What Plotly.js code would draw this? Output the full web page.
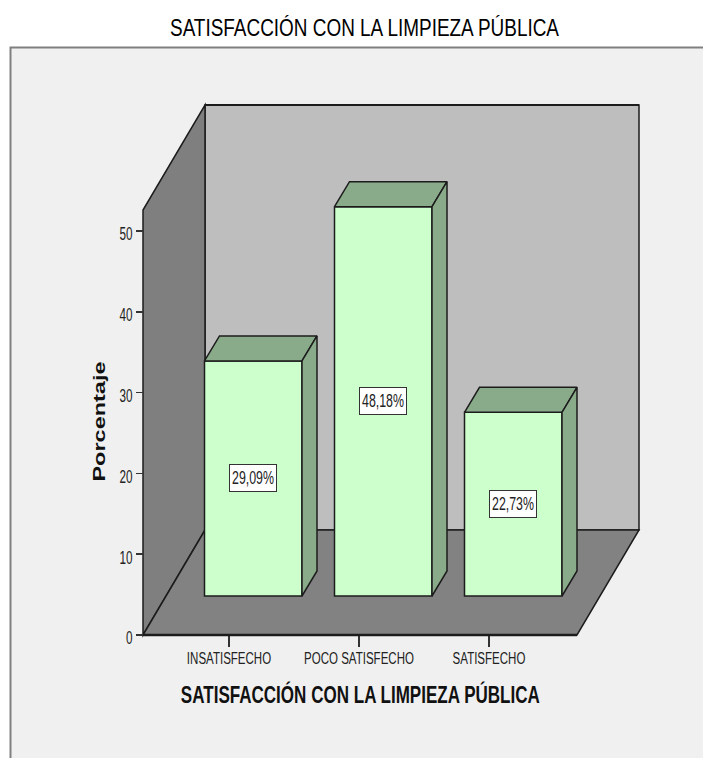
<!DOCTYPE html>
<html><head><meta charset="utf-8">
<script src="https://cdn.plot.ly/plotly-3.0.1.min.js"></script>
<style>html,body{margin:0;padding:0;background:#fff}</style></head>
<body><div id="c" style="width:703px;height:758px"></div>
<script>
const categories = ["INSATISFECHO", "POCO SATISFECHO", "SATISFECHO"];
const values = [29.09, 48.18, 22.73];
const valueLabels = ["29,09%", "48,18%", "22,73%"];
const yTicks = [0, 10, 20, 30, 40, 50];
const chartTitle = "SATISFACCIÓN CON LA LIMPIEZA PÚBLICA";
const xTitle = "SATISFACCIÓN CON LA LIMPIEZA PÚBLICA";
const yTitle = "Porcentaje";

// plot box in pixels and the scale of the axes
const box = {l:133, r:645, t:95, b:645}, W = 703, H = 758;
const pxX = 130, pxY = 8.08, x0px = 229, y0px = 635;
const px = p => (p - x0px) / pxX, py = p => (y0px - p) / pxY;
// 3-D construction, in axis units
const floorL = px(143), floorR = px(577), wallDX = 62/pxX, wallDY = 105/pxY, wallH = py(210);
const barBase = py(596), barW = 97.5/pxX, barOff = px(204.5), barDX = 15/pxX, barDY = 25/pxY;

const EDGE = "#1c1c1c", FRONT = "#ccffcc", SHADE = "#8aab8a";
const SANS = '"Liberation Sans",Arial,sans-serif';
const xs = categories.map((_, i) => i);

const poly = (pts, fill, lw) => ({type:"path", xref:"x", yref:"y", layer:"below",
  path: "M" + pts.map(p => p[0] + "," + p[1]).join("L") + "Z", fillcolor: fill, line:{color:EDGE, width:lw}});
const paperX = p => (p - box.l) / (box.r - box.l), paperY = p => (box.b - p) / (box.b - box.t);

const shapes = [
  {type:"rect", xref:"paper", yref:"paper", layer:"below", x0:paperX(10.5), x1:paperX(720), y0:paperY(47.5), y1:paperY(780),
   fillcolor:"#f0f0f0", line:{color:"#808080", width:2}},
  poly([[floorL+wallDX,wallDY],[floorL+wallDX,wallH+wallDY],[floorR+wallDX,wallH+wallDY],[floorR+wallDX,wallDY]],"#bebebe",1.5),
  poly([[floorL,0],[floorL,wallH],[floorL+wallDX,wallH+wallDY],[floorL+wallDX,wallDY]],"#7f7f7f",1.5),
  poly([[floorL,0],[floorR,0],[floorR+wallDX,wallDY],[floorL+wallDX,wallDY]],"#828282",1.5),
  {type:"line", xref:"x", yref:"y", x0:floorL, x1:floorR, y0:0, y1:0, line:{color:EDGE, width:2.5}},
  {type:"line", xref:"x", yref:"y", x0:floorL+wallDX, x1:floorR+wallDX, y0:wallH+wallDY, y1:wallH+wallDY, layer:"below", line:{color:EDGE, width:2}}
];

const topX=[], topY=[], sideX=[], sideY=[];
values.forEach((v,i) => {
  const a = i + barOff, b = a + barW, t = barBase + v;
  topX.push(a, b, b+barDX, a+barDX, a, null); topY.push(t, t, t+barDY, t+barDY, t, null);
  sideX.push(b, b+barDX, b+barDX, b, b, null); sideY.push(barBase, barBase+barDY, t+barDY, t, barBase, null);
});
const facet = (x,y) => ({type:"scatter", mode:"lines", x, y, fill:"toself", fillcolor:SHADE,
  line:{color:EDGE, width:1.5}, hoverinfo:"skip", showlegend:false});

const traces = [
  {type:"bar", x:xs, y:values, base:values.map(()=>barBase), width:barW, offset:barOff,
   marker:{color:FRONT, line:{color:EDGE, width:1.5}}, showlegend:false},
  facet(topX, topY), facet(sideX, sideY)
];

const annotations = values.map((v,i) => ({x:i+barOff+barW/2, y:barBase+v/2, xref:"x", yref:"y", text:valueLabels[i],
  showarrow:false, bgcolor:"#fff", bordercolor:"#333", borderwidth:1, width:46, height:26, borderpad:0,
  font:{family:SANS, size:18, color:"#222"}}));
annotations.push(
  {x:paperX(360), y:paperY(694), xref:"paper", yref:"paper", xanchor:"center", yanchor:"middle", text:xTitle, showarrow:false,
   font:{family:SANS, size:23, color:"#111", weight:"bold"}},
  {x:paperX(100), y:paperY(422), xref:"paper", yref:"paper", xanchor:"center", yanchor:"middle", text:yTitle, textangle:-90, showarrow:false,
   font:{family:SANS, size:17, color:"#111", weight:"bold"}}
);

const layout = {
  width:W, height:H, margin:{l:box.l, r:W-box.r, t:box.t, b:H-box.b},
  paper_bgcolor:"#fff", plot_bgcolor:"rgba(0,0,0,0)", showlegend:false, dragmode:false,
  title:{text:chartTitle, x:364.5/W, xanchor:"center", xref:"container", y:1-28/H, yanchor:"middle", yref:"container",
         font:{family:SANS, size:24, color:"#000"}},
  xaxis:{range:[px(box.l), px(box.r)], tickmode:"array", tickvals:xs, ticktext:categories,
         anchor:"free", position:paperY(y0px), ticks:"outside", ticklen:11, tickwidth:1.5, tickcolor:"#333",
         showgrid:false, zeroline:false, showline:false, tickangle:0, ticklabelstandoff:-2,
         tickfont:{family:SANS, size:16, color:"#222"}},
  yaxis:{range:[py(box.b), py(box.t)], tickmode:"array", tickvals:yTicks,
         anchor:"free", position:paperX(143), ticks:"outside", ticklen:7, tickwidth:1.5, tickcolor:"#333",
         showgrid:false, zeroline:false, showline:false, ticklabelshift:3,
         tickfont:{family:SANS, size:18, color:"#222"}},
  shapes, annotations
};

// The reference uses a condensed face: keep the text real and fit it to its measured width.
const textFits = [
  [".gtitle", () => 389],
  [".xtick text", el => el.getComputedTextLength() * 0.72],
  [".ytick text", el => el.getComputedTextLength() * 0.65],
  [".annotation-text", el => {
     const t = el.textContent;
     if (t === xTitle) return 359;
     if (t === yTitle) return 120;
     return 42;
  }]
];
Plotly.newPlot("c", traces, layout, {staticPlot:true, displayModeBar:false}).then(gd => {
  textFits.forEach(([sel, width]) => gd.querySelectorAll(sel).forEach(el => {
    el.setAttribute("textLength", width(el));
    el.setAttribute("lengthAdjust", "spacingAndGlyphs");
  }));
});
</script></body></html>
